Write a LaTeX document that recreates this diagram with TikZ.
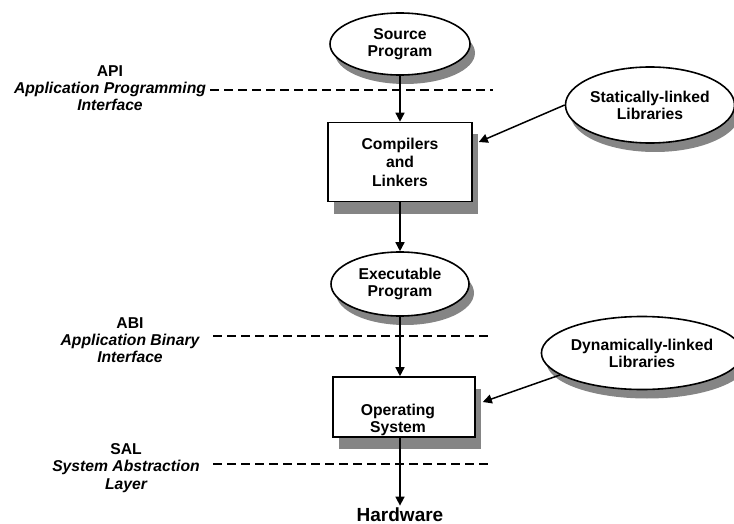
\documentclass[tikz,border=0pt]{standalone}
\usepackage{fontspec}
\setmainfont{Liberation Sans}
\usetikzlibrary{arrows.meta,shapes,shadows,positioning,calc}

\begin{document}
\begin{tikzpicture}[x=0.5pt, y=-0.5pt,
    every node/.style={font=\fontsize{7.85}{8.6}\selectfont\bfseries, align=center}]
  % Define styles
  \tikzset{
    prog/.style={ellipse, draw, line width=0.8pt, fill=white, inner sep=0pt,
      drop shadow={shadow xshift=2.5pt, shadow yshift=-4.5pt, fill=black!48, opacity=1}},
    tool/.style={rectangle, draw, line width=0.8pt, fill=white,
      drop shadow={shadow xshift=3pt, shadow yshift=-6pt, fill=black!48, opacity=1}},
    layer/.style={dash pattern=on 4.5pt off 2.5pt, line width=0.75pt},
    flow/.style={line width=0.75pt, -{Triangle[length=4.5pt, width=4.5pt]}}
  }
  \useasboundingbox (0,0) rectangle (734,524);

  % Main chain
  \node[prog, minimum width=70pt, minimum height=31pt] (src) at (400,44) {Source\\Program};
  \node[tool, minimum width=72pt, minimum height=39.5pt,
        font=\fontsize{7.85}{9.2}\selectfont\bfseries] (cmp) at (400,162) {Compilers\\and\\Linkers};
  \node[prog, minimum width=69pt, minimum height=32pt] (exe) at (400,284) {Executable\\Program};
  \node[tool, minimum width=71pt, minimum height=30pt] (os) at (404,407) {};
  \node (oslbl) at (398,420) {Operating\\System};
  \node[font=\fontsize{9.5}{11}\selectfont\bfseries, inner sep=1pt] (hw) at (400,515) {Hardware};

  % Libraries
  \node[prog, minimum width=84pt, minimum height=38pt] (stat) at (650,105) {Statically-linked\\Libraries};
  \node[prog, minimum width=93pt, minimum height=36.5pt] (dyn) at (642,353) {Dynamically-linked\\Libraries};

  % Interface labels
  \node (api) at (110,88) {API\\\itshape Application Programming\\\itshape Interface};
  \node (abi) at (130,340) {ABI\\\itshape Application Binary\\\itshape Interface};
  \node (sal) at (126,468) {SAL\\\itshape System Abstraction\\\itshape Layer};

  % Layer boundaries
  \foreach \y/\x in {90/210, 336/213, 464/213}
    \draw[layer] (\x,\y) -- (493,\y);

  % Arrows
  \draw[flow] (src.south) -- (src.south |- cmp.north);
  \draw[flow] (cmp.south) -- (cmp.south |- exe.north);
  \draw[flow] (exe.south) -- (exe.south |- os.north);
  \draw[flow] (exe.south |- os.south) -- (hw.north);
  \draw[flow] (stat.west) -- ([xshift=3pt,yshift=10pt]cmp.east);
  \draw[flow] (dyn.195) -- ([xshift=3.5pt,yshift=2.5pt]os.east);

\end{tikzpicture}
\end{document}
